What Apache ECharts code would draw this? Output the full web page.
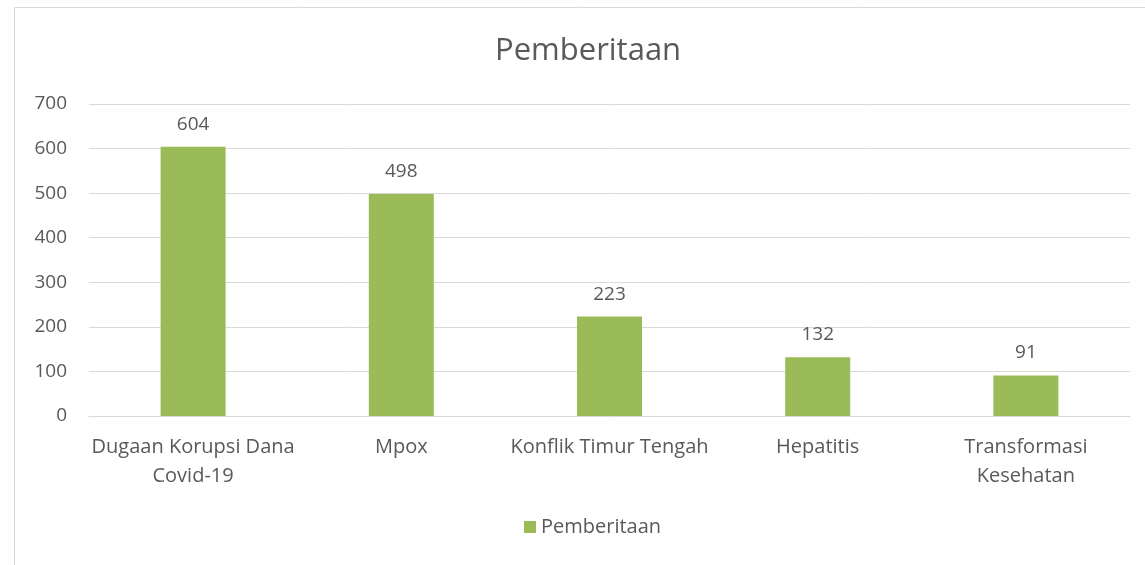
<!DOCTYPE html>
<html>
<head>
<meta charset="utf-8">
<script src="https://cdn.jsdelivr.net/npm/echarts@6/dist/echarts.min.js"></script>
<style>
  html, body { margin: 0; padding: 0; background: #fff; }
  #chart { width: 1145px; height: 565px; }
</style>
</head>
<body>
<div id="chart"></div>
<script>
// data
const categories = ['Dugaan Korupsi Dana\nCovid-19', 'Mpox', 'Konflik Timur Tengah', 'Hepatitis', 'Transformasi\nKesehatan'];
const values = [604, 498, 223, 132, 91];
const seriesName = 'Pemberitaan';

const font = '"Open Sans", "Noto Sans", sans-serif';
const textColor = '#595959';

const chart = echarts.init(document.getElementById('chart'));
chart.setOption({
  animation: false,
  textStyle: { fontFamily: font },
  // frame of the chart area
  graphic: [{
    type: 'rect',
    shape: { x: 14.5, y: 7.5, width: 1200, height: 700 },
    style: { fill: 'none', stroke: '#d9d9d9', lineWidth: 1 },
    silent: true
  }],
  title: {
    text: 'Pemberitaan',
    left: 490,
    top: 31,
    textStyle: { fontFamily: font, fontSize: 31, fontWeight: 'normal', color: textColor }
  },
  legend: {
    bottom: 23,
    left: 519,
    itemWidth: 12,
    itemHeight: 12,
    itemGap: 6,
    icon: 'rect',
    textStyle: { fontFamily: font, fontSize: 20, color: textColor }
  },
  grid: { left: 89, right: 15, top: 104, bottom: 149, containLabel: false },
  xAxis: {
    type: 'category',
    data: categories,
    axisTick: { show: false },
    axisLine: { lineStyle: { color: '#d9d9d9' } },
    axisLabel: { interval: 0, fontFamily: font, fontSize: 20, color: textColor, margin: 17, lineHeight: 29 }
  },
  yAxis: {
    type: 'value',
    min: 0,
    max: 700,
    interval: 100,
    axisLine: { show: false },
    axisTick: { show: false },
    splitLine: { lineStyle: { color: '#d9d9d9' } },
    axisLabel: { fontFamily: font, fontSize: 19, color: textColor, margin: 22 }
  },
  series: [{
    name: seriesName,
    type: 'bar',
    data: values,
    barWidth: 65,
    itemStyle: { color: '#9BBB59' },
    label: {
      show: true,
      position: 'top',
      distance: 13,
      fontFamily: font,
      fontSize: 19,
      color: textColor
    }
  }]
});
</script>
</body>
</html>
